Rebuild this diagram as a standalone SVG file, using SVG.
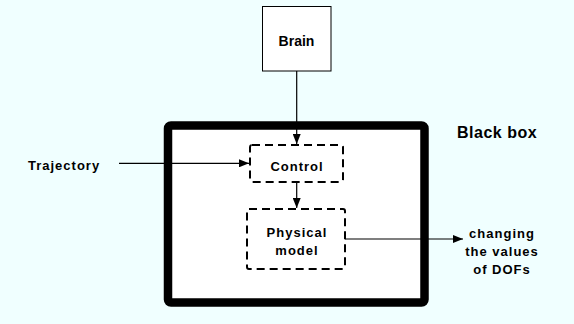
<svg xmlns="http://www.w3.org/2000/svg" width="574" height="324" viewBox="0 0 574 324">
  <style>
    text { font-family: "Liberation Sans", Arial, sans-serif; font-weight: bold; fill: #000; }
    .lbl { font-size: 13px; letter-spacing: 1px; }
    .solid { fill: #fff; stroke: #000; stroke-width: 1; }
    .dash { fill: #fff; stroke: #000; stroke-width: 2; stroke-dasharray: 8 5; }
    .wire { fill: none; stroke: #000; stroke-width: 1.2; marker-end: url(#arrow); }
  </style>
  <defs>
    <marker id="arrow" viewBox="0 0 10 8" refX="10" refY="4" markerWidth="10" markerHeight="8" markerUnits="userSpaceOnUse" orient="auto">
      <path d="M0,0 L10,4 L0,8 Z" fill="#000"/>
    </marker>
  </defs>
  <rect width="574" height="324" fill="#F0FFFF"/>

  <g id="black-box">
    <rect x="168" y="125.5" width="256.5" height="177" rx="3" fill="#fff" stroke="#000" stroke-width="8.5"/>
    <text x="457" y="138" font-size="16" letter-spacing="0.5">Black box</text>
  </g>

  <g id="brain">
    <rect class="solid" x="262.5" y="6.5" width="68.5" height="64.5"/>
    <text x="296.5" y="46" font-size="14" text-anchor="middle">Brain</text>
  </g>

  <g id="control">
    <rect class="dash" x="250" y="145" width="93" height="37" rx="2"/>
    <text class="lbl" x="297" y="171" text-anchor="middle">Control</text>
  </g>

  <g id="physical-model">
    <rect class="dash" x="247" y="209" width="98" height="60" rx="2"/>
    <text class="lbl" x="297" y="237" text-anchor="middle">Physical</text>
    <text class="lbl" x="297" y="255" text-anchor="middle">model</text>
  </g>

  <g id="trajectory">
    <text class="lbl" x="28" y="170" letter-spacing="0.8">Trajectory</text>
  </g>

  <g id="dof-output">
    <text class="lbl" x="502" y="238" text-anchor="middle">changing</text>
    <text class="lbl" x="502" y="256" text-anchor="middle">the values</text>
    <text class="lbl" x="502" y="274" text-anchor="middle">of DOFs</text>
  </g>

  <g id="connectors">
    <line class="wire" x1="296.7" y1="71" x2="296.7" y2="144"/>
    <line class="wire" x1="119" y1="163.3" x2="249" y2="163.3"/>
    <line class="wire" x1="296.7" y1="182" x2="296.7" y2="208"/>
    <line class="wire" x1="345" y1="239" x2="463" y2="239"/>
  </g>
</svg>
